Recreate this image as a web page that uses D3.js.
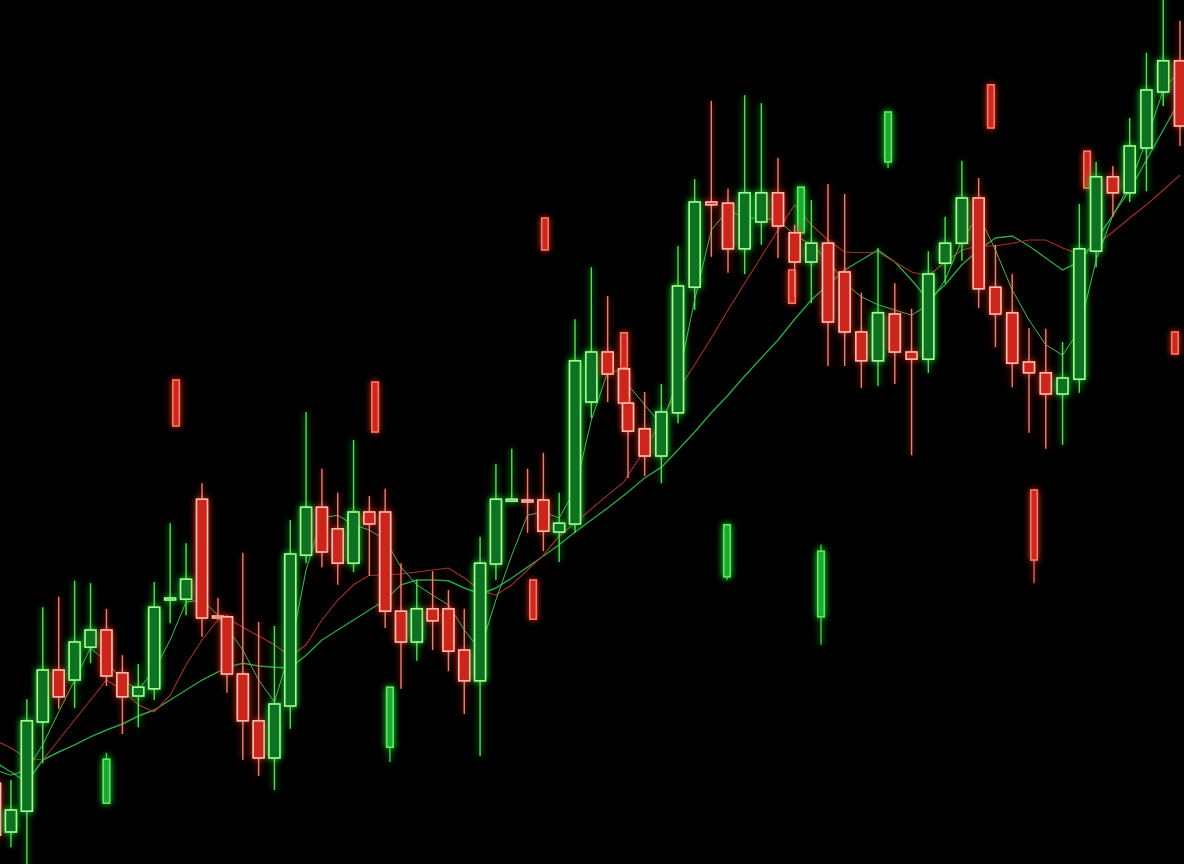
<!DOCTYPE html>
<html>
<head>
<meta charset="utf-8">
<script src="https://cdn.jsdelivr.net/npm/d3@7"></script>
<style>
    html, body { margin: 0; padding: 0; background: #000; overflow: hidden; }
</style>
</head>
<body>
<div id="chart"></div>
<script>
// main candles, one per session (session 0 is cut off at the left edge)
const openPrices = [60.1, 54.0, 56.6, 67.75, 74.25, 73.0, 77.1, 79.25, 73.9, 71.0,
    71.9, 83.0, 83.1, 95.6, 81.0, 80.9, 73.75, 67.9, 63.25, 69.75,
    88.6, 94.6, 91.9, 87.6, 94.0, 94.0, 81.6, 77.75, 81.9, 81.9,
    76.75, 72.9, 87.5, 95.4, 95.5, 95.5, 91.5, 92.5, 107.75, 114.0,
    111.9, 107.6, 104.4, 101.0, 106.4, 122.1, 132.75, 132.6, 126.9, 130.25,
    133.9, 128.9, 125.25, 127.6, 124.0, 116.5, 112.9, 118.75, 114.0, 113.1,
    125.1, 127.6, 133.25, 122.1, 118.9, 112.75, 111.4, 108.75, 110.6, 126.6,
    135.9, 133.9, 139.5, 146.5, 150.4];
const closePrices = [53.6, 56.75, 67.9, 74.25, 70.9, 77.75, 79.25, 73.5, 70.9, 72.1,
    82.1, 83.25, 85.6, 80.75, 80.75, 73.75, 67.9, 63.25, 70.0, 88.75,
    94.6, 89.0, 87.6, 94.0, 92.5, 81.6, 77.75, 81.9, 80.4, 76.6,
    72.9, 87.6, 95.6, 95.6, 95.25, 91.6, 92.6, 112.9, 114.0, 111.25,
    107.6, 104.1, 101.0, 106.5, 122.25, 132.75, 132.4, 126.9, 133.9, 133.9,
    129.75, 125.25, 127.6, 117.75, 116.5, 112.9, 118.9, 114.0, 113.1, 123.75,
    127.6, 133.25, 121.9, 118.75, 112.6, 111.4, 108.75, 110.75, 126.9, 135.9,
    133.9, 139.75, 146.75, 150.4, 142.25];
const highPrices = [61.0, 60.5, 70.6, 82.1, 83.4, 85.4, 85.1, 81.9, 76.1, 75.0,
    85.25, 92.6, 90.1, 97.6, 83.25, 81.1, 88.9, 80.25, 79.75, 93.0,
    106.5, 99.4, 96.4, 103.0, 96.0, 96.9, 87.6, 85.5, 86.6, 84.25,
    81.9, 90.9, 100.0, 101.9, 99.4, 101.4, 96.4, 118.1, 124.6, 121.0,
    112.0, 107.6, 109.0, 110.0, 127.25, 135.6, 145.4, 134.4, 146.1, 145.1,
    138.25, 129.9, 133.0, 135.0, 133.75, 121.4, 127.0, 122.6, 119.4, 126.6,
    130.9, 137.9, 135.75, 127.4, 123.75, 117.0, 116.9, 115.25, 132.5, 137.75,
    137.25, 143.25, 151.4, 159.25, 155.4];
const lowPrices = [52.0, 52.1, 49.25, 62.6, 69.4, 69.5, 75.1, 72.25, 66.25, 67.1,
    70.5, 80.1, 81.1, 78.4, 80.5, 71.4, 63.0, 61.0, 59.25, 66.9,
    87.6, 87.1, 84.9, 86.5, 86.0, 79.5, 71.9, 75.4, 76.75, 74.1,
    68.75, 63.5, 85.5, 95.25, 91.4, 89.1, 87.75, 91.4, 105.75, 107.75,
    107.0, 98.25, 98.5, 97.6, 105.1, 119.25, 125.9, 123.9, 123.75, 127.4,
    125.75, 120.9, 120.1, 112.25, 112.25, 109.5, 109.75, 110.0, 101.1, 111.4,
    122.6, 125.4, 119.5, 114.6, 109.6, 103.9, 101.9, 102.4, 108.9, 124.6,
    130.9, 132.75, 134.1, 144.75, 139.75];

// faint reflected candles floating behind the main series
const ghostDays = [7.0, 11.37, 24.36, 25.3, 34.35, 35.1, 37.55, 40, 46.94, 50.84,
    51.38, 52.58, 56.6, 62.73, 65.3, 68.46, 73.7];
const ghostOpen = [57.6, 110.5, 110.25, 64.6, 85.5, 130.75, 78, 116.4, 85.9, 124.25,
    128.9, 80.9, 137.75, 147.4, 96.75, 139.1, 116.5];
const ghostClose = [63.1, 104.75, 104.0, 72.1, 80.6, 126.75, 78, 112.0, 92.4, 120.1,
    134.6, 89.1, 144.0, 142.0, 88.0, 134.5, 113.75];
const ghostHigh = [63.9, 110.5, 110.25, 72.1, 85.5, 130.75, 85.1, 116.4, 92.4, 124.25,
    134.6, 89.9, 144.0, 147.4, 96.75, 139.1, 116.5];
const ghostLow = [57.6, 104.75, 104.0, 62.75, 80.6, 126.75, 71.1, 112.0, 85.5, 120.1,
    128.9, 77.4, 137.0, 142.0, 85.1, 134.5, 113.75];

// moving averages, one value per session
const maFast = [61.75, 61.1, 61.75, 64.9, 69.0, 73.0, 77.0, 75.25, 73.0, 71.75,
    74.25, 78.0, 82.75, 83.0, 81.1, 79.5, 76.75, 73.0, 70.25, 76.75,
    86.75, 93.25, 93.6, 92.4, 91.75, 90.5, 87.1, 84.9, 83.6, 82.4,
    79.25, 76.75, 83.0, 88.6, 93.6, 94.0, 93.25, 96.75, 105.5, 111.5,
    111.75, 109.9, 107.4, 104.9, 110.5, 120.5, 129.25, 131.75, 130.75, 130.75,
    130.5, 128.6, 127.4, 125.5, 122.6, 120.9, 119.9, 119.25, 118.6, 119.9,
    123.0, 128.0, 131.1, 126.75, 121.75, 118.0, 114.9, 113.6, 116.75, 125.5,
    131.1, 134.9, 140.5, 146.75, 149.25];
const maMid = [65.5, 64.5, 63.25, 63.0, 65.5, 68.0, 70.5, 73.0, 71.75, 69.9,
    69.0, 71.1, 74.9, 78.0, 80.5, 80.75, 79.6, 78.5, 77.4, 75.9,
    77.4, 80.5, 83.0, 84.9, 86.1, 86.1, 86.25, 86.5, 86.75, 87.0,
    85.75, 84.25, 83.6, 84.9, 86.75, 88.6, 91.0, 92.6, 94.4, 96.1,
    97.75, 98.6, 101.75, 105.5, 109.25, 112.4, 115.75, 119.25, 122.6, 125.9,
    129.25, 132.4, 129.9, 128.0, 126.5, 126.4, 126.5, 125.25, 124.0, 123.5,
    125.25, 126.75, 127.25, 127.25, 127.6, 128.0, 128.0, 127.0, 126.25, 127.4,
    129.0, 130.75, 132.4, 134.25, 136.1];
const maSlow = [62.75, 61.5, 60.25, 63.0, 64.0, 64.9, 65.9, 66.75, 67.5, 68.5,
    69.25, 70.5, 71.75, 73.0, 74.0, 74.6, 75.1, 74.75, 74.6, 74.5,
    76.1, 78.0, 79.25, 80.5, 81.75, 83.0, 84.9, 85.5, 85.5, 85.4,
    84.5, 83.75, 84.5, 85.75, 87.1, 88.5, 89.9, 91.5, 93.0, 94.5,
    96.1, 96.5, 98.25, 99.6, 101.75, 104.0, 106.4, 108.6, 111.0, 113.25,
    115.5, 118.1, 120.5, 122.4, 124.25, 125.5, 126.75, 125.25, 123.0, 120.5,
    122.4, 124.9, 126.75, 128.25, 128.5, 127.25, 125.75, 124.25, 125.25, 128.0,
    131.1, 134.25, 138.0, 141.75, 145.5];

const width = 1184;
const height = 864;

const candles = openPrices.map((o, i) => ({
    day: i,
    open: o,
    close: closePrices[i],
    high: highPrices[i],
    low: lowPrices[i],
}));
const ghosts = ghostDays.map((d, i) => ({
    day: d,
    open: ghostOpen[i],
    close: ghostClose[i],
    high: ghostHigh[i],
    low: ghostLow[i],
}));

// the photo is shot at a slight angle, so sessions get wider to the right
const xScale = d3
    .scaleLinear()
    .domain([0, 13, 14, 15, 37, 40, 41, 56, 74])
    .range([-5, 202, 218, 227, 575, 624, 628, 878, 1180]);

const yScale = d3.scaleLinear().domain([50, 158]).range([height, 0]);

const svg = d3
    .select('#chart')
    .append('svg')
    .attr('width', width)
    .attr('height', height)
    .style('display', 'block')
    .style('background', '#000');

const defs = svg.append('defs');

// coloured halo: blurred alpha tinted with the candle colour, source on top
function addGlow(id, color, blur, opacity) {
    const f = defs
        .append('filter')
        .attr('id', id)
        .attr('x', '-150%')
        .attr('y', '-30%')
        .attr('width', '400%')
        .attr('height', '160%');
    f.append('feGaussianBlur')
        .attr('in', 'SourceAlpha')
        .attr('stdDeviation', blur)
        .attr('result', 'blur');
    f.append('feFlood')
        .attr('flood-color', color)
        .attr('flood-opacity', opacity)
        .attr('result', 'tint');
    f.append('feComposite')
        .attr('in', 'tint')
        .attr('in2', 'blur')
        .attr('operator', 'in')
        .attr('result', 'halo');
    const merge = f.append('feMerge');
    merge.append('feMergeNode').attr('in', 'halo');
    merge.append('feMergeNode').attr('in', 'halo');
    merge.append('feMergeNode').attr('in', 'SourceGraphic');
}
addGlow('glow-up', '#22d83c', 3.5, 0.6);
addGlow('glow-down', '#e3341f', 3.5, 0.55);

const colors = {
    up: { fill: '#0f7322', stroke: '#a3ff94', wick: '#5fd65b', glow: 'url(#glow-up)' },
    down: { fill: '#cc271d', stroke: '#ffbcb0', wick: '#e08479', glow: 'url(#glow-down)' },
    ghostUp: { fill: '#1da833', stroke: '#5fe85e', wick: '#46c94c', glow: 'url(#glow-up)' },
    ghostDown: { fill: '#cf281f', stroke: '#ee7a6c', wick: '#d26a5f', glow: 'url(#glow-down)' },
};

// moving averages sit behind the candles
const lineGen = (values) =>
    d3
        .line()
        .x((_, i) => xScale(i))
        .y((d) => yScale(d))(values);

const lines = svg.append('g');
lines
    .append('path')
    .attr('d', lineGen(maSlow))
    .attr('fill', 'none')
    .attr('stroke', '#2ea447')
    .attr('stroke-width', 1.4);
lines
    .append('path')
    .attr('d', lineGen(maMid))
    .attr('fill', 'none')
    .attr('stroke', '#a5322a')
    .attr('stroke-width', 1.1);
lines
    .append('path')
    .attr('d', lineGen(maFast))
    .attr('fill', 'none')
    .attr('stroke', '#46bd55')
    .attr('stroke-width', 1);

function drawCandles(group, data, bodyWidth, upColors, downColors) {
    const c = (d) => (d.close >= d.open ? upColors : downColors);

    const g = group
        .selectAll('g.candle')
        .data(data)
        .join('g')
        .attr('class', 'candle')
        .attr('filter', (d) => c(d).glow);

    g.filter((d) => d.high > Math.max(d.open, d.close) || d.low < Math.min(d.open, d.close))
        .append('line')
        .attr('x1', (d) => xScale(d.day))
        .attr('x2', (d) => xScale(d.day))
        .attr('y1', (d) => yScale(d.high))
        .attr('y2', (d) => yScale(d.low))
        .attr('stroke', (d) => c(d).wick)
        .attr('stroke-width', 1.4);

    g.filter((d) => d.open !== d.close)
        .append('rect')
        .attr('x', (d) => xScale(d.day) - bodyWidth / 2)
        .attr('y', (d) => yScale(Math.max(d.open, d.close)))
        .attr('width', bodyWidth)
        .attr('height', (d) =>
            Math.max(2, Math.abs(yScale(d.open) - yScale(d.close)))
        )
        .attr('fill', (d) => c(d).fill)
        .attr('stroke', (d) => c(d).stroke)
        .attr('stroke-width', 1.6);
}

const ghostLayer = svg.append('g');
drawCandles(ghostLayer, ghosts, 6.5, colors.ghostUp, colors.ghostDown);

const candleLayer = svg.append('g');
drawCandles(candleLayer, candles, 11, colors.up, colors.down);
</script>
</body>
</html>
